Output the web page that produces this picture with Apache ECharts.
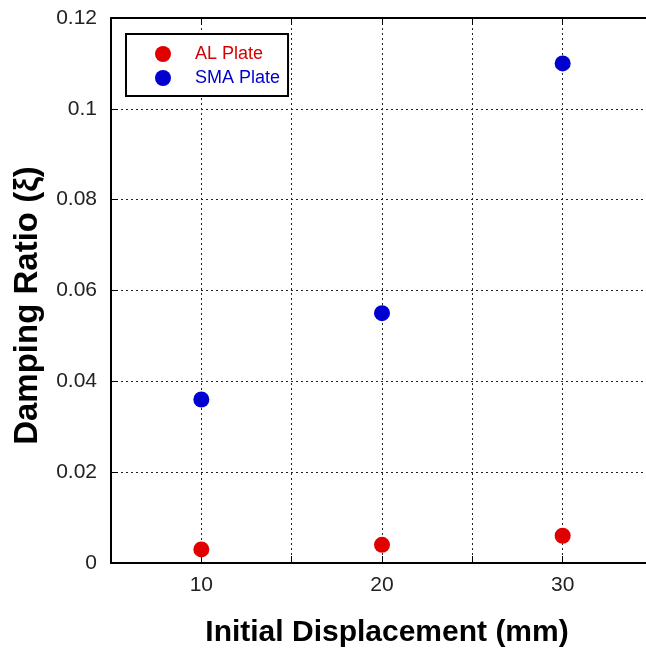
<!DOCTYPE html>
<html>
<head>
<meta charset="utf-8">
<script src="https://cdn.jsdelivr.net/npm/echarts@6/dist/echarts.min.js"></script>
<style>
  html, body { margin: 0; padding: 0; background: #fff; }
  #main { width: 646px; height: 655px; }
</style>
</head>
<body>
<div id="main"></div>
<script>
// 数据
var displacement = [10, 20, 30];
var alPlate = [0.003, 0.004, 0.006];
var smaPlate = [0.036, 0.055, 0.110];
var xTickLabels = ['10', '20', '30'];

function toPoints(xs, ys) {
    var out = [];
    for (var i = 0; i < xs.length; i++) {
        out.push([xs[i], ys[i]]);
    }
    return out;
}

var myChart = echarts.init(document.getElementById('main'));

var gridLine = {
    show: true,
    lineStyle: { color: '#222', type: [2, 3], width: 1 }
};

var option = {
    animation: false,
    backgroundColor: '#fff',
    textStyle: { fontFamily: 'Arial, "Liberation Sans", sans-serif' },
    grid: { left: 111, top: 18, width: 542, bottom: 92, outerBoundsMode: 'none', containLabel: false },
    legend: {
        orient: 'vertical',
        left: 126,
        top: 34,
        padding: [11, 8, 9, 29],
        itemWidth: 54,
        itemHeight: 16,
        itemGap: 6,
        borderColor: '#000',
        borderWidth: 2,
        borderRadius: 0,
        backgroundColor: '#fff',
        textStyle: { fontSize: 18 },
        data: [
            { name: 'AL Plate', icon: 'circle', textStyle: { color: '#d80000' } },
            { name: 'SMA Plate', icon: 'circle', textStyle: { color: '#0000cc' } }
        ]
    },
    xAxis: [
        {
            type: 'value',
            min: 5,
            max: 35,
            interval: 5,
            name: 'Initial Displacement (mm)',
            nameLocation: 'middle',
            nameGap: 55,
            nameTextStyle: { fontSize: 30, fontWeight: 'bold', color: '#000', padding: [0, 0, 0, 10] },
            axisLine: { onZero: false, lineStyle: { color: '#000', width: 2 } },
            axisTick: { inside: true, length: 7, lineStyle: { color: '#000' } },
            axisLabel: {
                fontSize: 21,
                color: '#222',
                margin: 12,
                formatter: function (v) {
                    return xTickLabels.indexOf(String(v)) >= 0 ? String(v) : '';
                }
            },
            splitLine: gridLine
        },
        {
            type: 'value',
            position: 'top',
            min: 5,
            max: 35,
            interval: 5,
            axisLine: { show: true, onZero: false, lineStyle: { color: '#000', width: 2 } },
            axisTick: { inside: true, length: 7, lineStyle: { color: '#000' } },
            axisLabel: { show: false },
            splitLine: { show: false }
        }
    ],
    yAxis: {
        type: 'value',
        min: 0,
        max: 0.12,
        interval: 0.02,
        name: 'Damping Ratio (ξ)',
        nameLocation: 'middle',
        nameGap: 67,
        nameTextStyle: { fontSize: 33, fontWeight: 'bold', color: '#000', padding: [0, 30, 0, 0] },
        axisLine: { show: true, lineStyle: { color: '#000', width: 2 } },
        axisTick: { show: true, inside: true, length: 7, lineStyle: { color: '#000' } },
        axisLabel: {
            fontSize: 21,
            color: '#222',
            margin: 14,
            formatter: function (v) {
                return v === 0 ? '0' : String(parseFloat(v.toFixed(2)));
            }
        },
        splitLine: gridLine
    },
    series: [
        {
            name: 'AL Plate',
            type: 'scatter',
            symbol: 'circle',
            symbolSize: 16,
            itemStyle: { color: '#e00000', opacity: 1 },
            data: toPoints(displacement, alPlate)
        },
        {
            name: 'SMA Plate',
            type: 'scatter',
            symbol: 'circle',
            symbolSize: 16,
            itemStyle: { color: '#0000d0', opacity: 1 },
            data: toPoints(displacement, smaPlate)
        }
    ]
};

myChart.setOption(option);
</script>
</body>
</html>
